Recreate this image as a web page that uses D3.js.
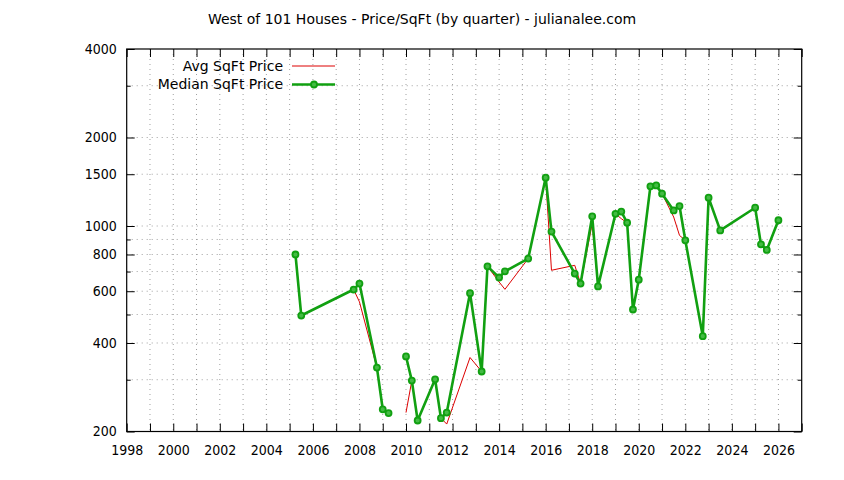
<!DOCTYPE html>
<html>
<head>
<meta charset="utf-8">
<title>West of 101 Houses</title>
<script src="https://cdn.jsdelivr.net/npm/d3@7/dist/d3.min.js"></script>
<style>
  body { margin: 0; background: white; }
  svg text { font-family: "DejaVu Sans Condensed", "DejaVu Sans", sans-serif; font-size: 14px; fill: #000; }
  svg text.large { font-family: "DejaVu Sans", sans-serif; }
  .grid line { stroke: #a0a0a0; stroke-width: 1; stroke-dasharray: 1,4; }
</style>
</head>
<body>
<svg width="844" height="480"></svg>
<script>
// quarter (decimal year), median $/sqft, average $/sqft -- null = break in line
const quarters = [2005.25, 2005.5, 2007.75, 2008.0, 2008.75, 2009.0, 2009.25, 2009.5,
  2010.0, 2010.25, 2010.5, 2011.25, 2011.5, 2011.75, 2012.75, 2013.25, 2013.5,
  2014.0, 2014.25, 2015.25, 2016.0, 2016.25, 2017.25, 2017.5, 2018.0, 2018.25,
  2019.0, 2019.25, 2019.5, 2019.75, 2020.0, 2020.5, 2020.75, 2021.0, 2021.5,
  2021.75, 2022.0, 2022.75, 2023.0, 2023.5, 2025.0, 2025.25, 2025.5, 2026.0];
const medianPrice = [800, 496, 608, 637, 330, 238, 231, null,
  360, 298, 218, 301, 222, 232, 591, 320, 729,
  668, 701, 775, 1460, 957, 689, 637, 1079, 623,
  1100, 1120, 1026, 520, 657, 1364, 1374, 1288, 1130,
  1169, 894, 422, 1248, 966, 1154, 866, 829, 1046];
const avgPrice = [800, 496, 608, 552, 330, 238, 231, null,
  232, 298, 218, 301, 222, 212, 357, 320, 729,
  645, 609, 775, 1460, 707, 735, 637, 1018, 623,
  1100, 1059, 1026, 520, 657, 1364, 1374, 1288, 1073,
  929, 894, 422, 1248, 966, 1154, 866, 829, 1046];

const yTickLabels = [200, 400, 600, 800, 1000, 1500, 2000, 4000];
const yMinorTicks = [300, 500, 700, 900, 3000];
const xTickLabels = d3.range(1998, 2027, 2);

const titre = "West of 101 Houses - Price/SqFt (by quarter) - julianalee.com";

const gauche = 126.7, droite = 801.7, haut = 49, bas = 431.5;

const x = d3.scaleLinear().domain([1998, 2027]).range([gauche, droite]);
const y = d3.scaleLog().domain([200, 4000]).range([bas, haut]);

const svg = d3.select("svg");

// grille
const grid = svg.append("g").classed("grid", true);
grid.selectAll(".gx")
    .data(d3.range(1999, 2027))
    .enter().append("line")
    .attr("x1", d => x(d)).attr("x2", d => x(d))
    .attr("y1", haut).attr("y2", bas);
grid.selectAll(".gy")
    .data(yTickLabels.concat(yMinorTicks).filter(d => d > 200 && d < 4000))
    .enter().append("line")
    .attr("x1", gauche).attr("x2", droite)
    .attr("y1", d => y(d)).attr("y2", d => y(d));

// axes (ticks vers l'interieur, miroir en haut et a droite)
const axB = d3.axisBottom(x).tickValues(d3.range(1998, 2028)).tickSizeInner(-8).tickSizeOuter(0)
    .tickFormat(d => xTickLabels.includes(d) ? d : "").tickPadding(14);
const axT = d3.axisTop(x).tickValues(d3.range(1998, 2028)).tickSizeInner(-8).tickSizeOuter(0).tickFormat("");
const axL = d3.axisLeft(y).tickValues(yTickLabels).tickSizeInner(-8).tickSizeOuter(0)
    .tickFormat(d3.format("d")).tickPadding(10);
const axR = d3.axisRight(y).tickValues(yTickLabels).tickSizeInner(-8).tickSizeOuter(0).tickFormat("");
const axLm = d3.axisLeft(y).tickValues(yMinorTicks).tickSizeInner(-4).tickSizeOuter(0).tickFormat("");
const axRm = d3.axisRight(y).tickValues(yMinorTicks).tickSizeInner(-4).tickSizeOuter(0).tickFormat("");

function styleAxe(g) {
    g.select(".domain").remove();
    g.selectAll("line").attr("stroke", "#000");
    g.selectAll("text").attr("font-size", null).attr("font-family", null);
}
svg.append("g").attr("transform", `translate(0,${bas})`).call(axB).call(styleAxe);
svg.append("g").attr("transform", `translate(0,${haut})`).call(axT).call(styleAxe);
svg.append("g").attr("transform", `translate(${gauche},0)`).call(axL).call(styleAxe);
svg.append("g").attr("transform", `translate(${droite},0)`).call(axR).call(styleAxe);
svg.append("g").attr("transform", `translate(${gauche},0)`).call(axLm).call(styleAxe);
svg.append("g").attr("transform", `translate(${droite},0)`).call(axRm).call(styleAxe);

svg.append("rect")
    .attr("x", gauche).attr("y", haut)
    .attr("width", droite - gauche).attr("height", bas - haut)
    .attr("fill", "none").attr("stroke", "#000").attr("stroke-width", 1.2);

// donnees
const rows = quarters.map((q, i) => ({q: q, med: medianPrice[i], avg: avgPrice[i]}));

const ligneAvg = d3.line().defined(d => d.avg != null).x(d => x(d.q)).y(d => y(d.avg));
const ligneMed = d3.line().defined(d => d.med != null).x(d => x(d.q)).y(d => y(d.med));

const rouge = "#dd0000", vert = "#11a011";

svg.append("path").datum(rows)
    .attr("d", ligneAvg).attr("fill", "none")
    .attr("stroke", rouge).attr("stroke-width", 1);

svg.append("path").datum(rows)
    .attr("d", ligneMed).attr("fill", "none")
    .attr("stroke", vert).attr("stroke-width", 2.6).attr("stroke-linejoin", "round");

svg.append("g").selectAll("circle")
    .data(rows.filter(d => d.med != null))
    .enter().append("circle")
    .attr("cx", d => x(d.q)).attr("cy", d => y(d.med))
    .attr("r", 3).attr("fill", "#44bb44")
    .attr("stroke", vert).attr("stroke-width", 1.8);

// legende
const legende = [{nom: "Avg SqFt Price", couleur: rouge, w: 1, point: false},
                 {nom: "Median SqFt Price", couleur: vert, w: 2.6, point: true}];
const gLeg = svg.append("g").selectAll("g")
    .data(legende).enter().append("g")
    .attr("transform", (d, i) => `translate(0,${66 + i * 18.5})`);
gLeg.append("text")
    .classed("large", true)
    .attr("x", 283).attr("dy", "0.35em")
    .attr("text-anchor", "end")
    .text(d => d.nom);
gLeg.append("line")
    .attr("x1", 292).attr("x2", 335)
    .attr("stroke", d => d.couleur).attr("stroke-width", d => d.w);
gLeg.filter(d => d.point).append("circle")
    .attr("cx", 314).attr("r", 3).attr("fill", "#44bb44")
    .attr("stroke", vert).attr("stroke-width", 1.8);

// titre
svg.append("text")
    .classed("large", true)
    .attr("x", 422).attr("y", 24)
    .attr("text-anchor", "middle")
    .text(titre);
</script>
</body>
</html>
